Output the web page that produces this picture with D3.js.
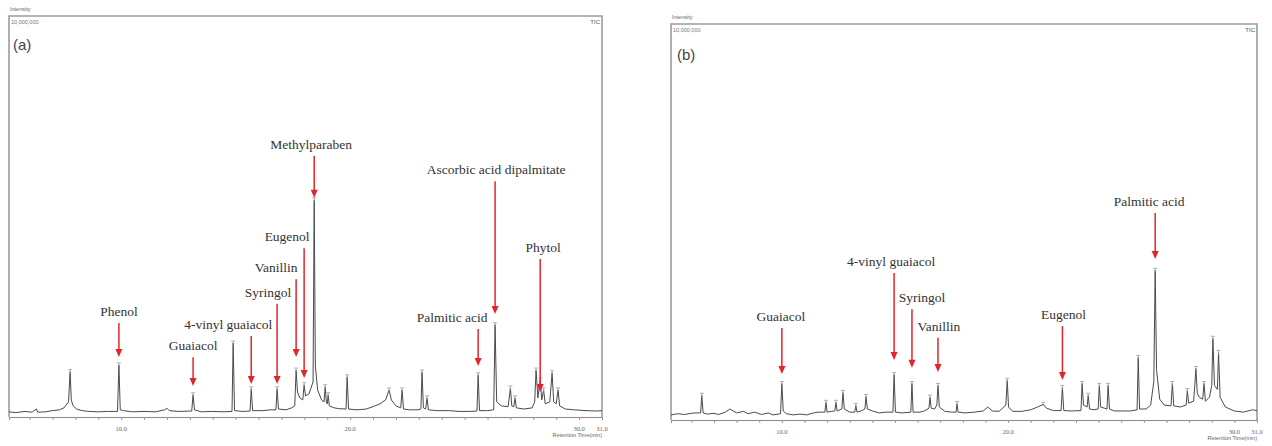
<!DOCTYPE html>
<html><head><meta charset="utf-8">
<script src="https://cdn.jsdelivr.net/npm/d3@7"></script>
<style>body{margin:0;background:#fff}svg{display:block}</style>
</head><body>
<svg id="c" width="1272" height="446"></svg>
<script>
// ---- DATA ----
// Retention time (min), intensity (x10^6 counts)
const traceA = [
[5.1,0.05],[5.4,0.03],[5.8,0.06],[6.1,0.04],[6.3,0.12],[6.35,0.04],[6.7,0.05],[7.0,0.08],[7.3,0.1],[7.5,0.15],[7.7,0.3],[7.77,1.06],[7.82,0.35],[7.9,0.2],[8.05,0.12],[8.3,0.08],[8.6,0.06],[9.0,0.05],[9.4,0.06],[9.84,0.06],[9.9,1.23],[9.96,0.1],[10.1,0.08],[10.5,0.05],[11.0,0.06],[11.5,0.05],[11.9,0.1],[12.0,0.14],[12.1,0.08],[12.5,0.06],[13.08,0.07],[13.14,0.48],[13.2,0.1],[13.5,0.05],[14.0,0.06],[14.5,0.05],[14.84,0.06],[14.89,1.78],[14.95,0.08],[15.3,0.06],[15.63,0.07],[15.68,0.63],[15.74,0.08],[16.2,0.08],[16.5,0.1],[16.76,0.1],[16.81,0.63],[16.87,0.12],[17.2,0.1],[17.45,0.15],[17.58,0.2],[17.64,1.1],[17.7,0.55],[17.8,0.4],[17.93,0.35],[17.99,0.73],[18.05,0.45],[18.2,0.5],[18.38,0.8],[18.43,5.38],[18.48,1.2],[18.58,0.6],[18.75,0.35],[18.86,0.3],[18.91,0.68],[18.96,0.3],[19.0,0.25],[19.04,0.48],[19.09,0.2],[19.3,0.15],[19.5,0.13],[19.82,0.12],[19.87,0.93],[19.93,0.12],[20.3,0.1],[20.7,0.12],[21.0,0.18],[21.3,0.25],[21.55,0.35],[21.7,0.6],[21.8,0.35],[22.0,0.2],[22.21,0.15],[22.27,0.6],[22.33,0.12],[22.6,0.1],[22.95,0.1],[23.09,0.12],[23.14,1.05],[23.2,0.15],[23.3,0.12],[23.36,0.4],[23.42,0.1],[23.8,0.08],[24.3,0.08],[24.8,0.06],[25.2,0.06],[25.54,0.07],[25.59,0.98],[25.65,0.08],[26.0,0.08],[26.27,0.1],[26.33,2.24],[26.4,0.3],[26.6,0.2],[26.9,0.18],[27.0,0.65],[27.06,0.2],[27.15,0.18],[27.2,0.4],[27.26,0.15],[27.6,0.12],[27.95,0.15],[28.06,0.3],[28.12,1.1],[28.2,0.4],[28.3,0.85],[28.37,0.35],[28.45,0.6],[28.52,0.25],[28.72,0.3],[28.82,1.03],[28.89,0.3],[29.0,0.25],[29.08,0.6],[29.15,0.2],[29.4,0.12],[29.8,0.1],[30.3,0.08],[30.8,0.07],[31.0,0.08]
];
const traceB = [
[5.1,0.05],[5.4,0.08],[5.7,0.06],[6.0,0.09],[6.2,0.1],[6.41,0.1],[6.46,0.55],[6.52,0.1],[6.7,0.07],[7.0,0.09],[7.2,0.06],[7.5,0.12],[7.7,0.2],[7.85,0.15],[8.0,0.1],[8.3,0.14],[8.5,0.08],[8.8,0.12],[9.1,0.06],[9.4,0.1],[9.6,0.05],[9.94,0.08],[10.0,0.85],[10.06,0.15],[10.2,0.08],[10.5,0.05],[10.8,0.07],[11.1,0.05],[11.4,0.1],[11.6,0.12],[11.9,0.12],[11.95,0.37],[12.0,0.12],[12.2,0.14],[12.34,0.15],[12.39,0.37],[12.44,0.15],[12.65,0.2],[12.7,0.62],[12.76,0.2],[13.0,0.12],[13.22,0.12],[13.27,0.29],[13.32,0.12],[13.5,0.15],[13.67,0.2],[13.72,0.52],[13.78,0.2],[14.0,0.15],[14.3,0.1],[14.6,0.12],[14.91,0.12],[14.96,1.08],[15.02,0.12],[15.3,0.1],[15.7,0.12],[15.75,0.85],[15.8,0.12],[16.1,0.12],[16.3,0.15],[16.5,0.22],[16.55,0.5],[16.6,0.22],[16.75,0.2],[16.85,0.3],[16.9,0.8],[16.96,0.25],[17.2,0.14],[17.5,0.12],[17.7,0.12],[17.74,0.34],[17.79,0.12],[18.1,0.1],[18.5,0.12],[18.9,0.15],[19.1,0.25],[19.3,0.15],[19.6,0.14],[19.9,0.3],[19.96,0.93],[20.02,0.25],[20.2,0.14],[20.6,0.14],[21.0,0.18],[21.3,0.25],[21.55,0.32],[21.7,0.22],[22.0,0.16],[22.34,0.16],[22.4,0.75],[22.46,0.16],[22.8,0.15],[23.22,0.16],[23.27,0.85],[23.33,0.3],[23.49,0.25],[23.54,0.55],[23.6,0.2],[23.8,0.18],[23.98,0.2],[24.03,0.8],[24.09,0.25],[24.37,0.2],[24.42,0.8],[24.48,0.2],[24.7,0.15],[25.0,0.15],[25.4,0.15],[25.7,0.18],[25.75,1.51],[25.81,0.2],[26.1,0.2],[26.3,0.3],[26.44,0.9],[26.5,3.73],[26.56,1.2],[26.7,0.45],[26.9,0.3],[27.2,0.28],[27.26,0.85],[27.32,0.28],[27.6,0.25],[27.87,0.3],[27.92,0.67],[27.98,0.35],[28.2,0.4],[28.25,0.8],[28.3,1.23],[28.36,0.6],[28.45,0.5],[28.6,0.45],[28.66,0.85],[28.72,0.4],[28.9,0.5],[29.0,0.8],[29.05,2.0],[29.12,0.8],[29.25,0.7],[29.3,1.64],[29.37,0.5],[29.6,0.25],[30.0,0.15],[30.4,0.12],[30.8,0.18],[31.0,0.16]
];
const compoundsA = ["Phenol","Guaiacol","4-vinyl guaiacol","Syringol","Vanillin","Eugenol","Methylparaben","Palmitic acid","Ascorbic acid dipalmitate","Phytol"];
const compoundTimesA = [9.9,13.14,15.68,16.81,17.64,17.99,18.43,25.59,26.33,28.3];
const compoundsB = ["Guaiacol","4-vinyl guaiacol","Syringol","Vanillin","Eugenol","Palmitic acid"];
const compoundTimesB = [10.0,14.96,15.75,16.9,22.4,26.5];
const xTickLabels = ["10.0","20.0","30.0","31.0"];
const xTickValues = [10,20,30,31];
const panelLetters = ["(a)","(b)"];

// ---- LAYOUT (annotation placement, in intensity units / px offsets) ----
const layoutA = { labelV:[2.46,1.60,2.13,2.94,3.56,4.34,6.66,2.31,6.02,4.07],
                  tipV:[1.43,0.70,0.75,0.75,1.43,0.90,5.43,1.20,2.51,0.55],
                  dx:[0,0,-23,-9,-20,-17,-3,-26,1,3] };
const layoutB = { labelV:[2.44,3.84,2.92,2.19,2.49,5.37],
                  tipV:[1.09,1.45,1.25,1.14,0.94,4.02],
                  dx:[-1,-3,10,1,1,-6] };

const svg = d3.select("#c");
const RED = "#e2252c";

function panel(cfg){
  const g = svg.append("g");
  const x = d3.scaleLinear().domain([5.1,31.0]).range([cfg.left,cfg.right]);
  const y = d3.scaleLinear().domain([-0.08,10]).range([cfg.bottom,cfg.top]);
  // frame
  g.append("path").attr("d",`M${cfg.left},${cfg.bottom}V${cfg.top}H${cfg.right}V${cfg.bottom}`)
    .attr("fill","none").attr("stroke","#9c9c9c").attr("stroke-width",1.6);
  // x axis
  const ax = g.append("g").attr("transform",`translate(0,${cfg.bottom})`)
    .call(d3.axisBottom(x).tickValues(d3.range(6,31,1)).tickSize(3).tickFormat(""));
  ax.select(".domain").attr("stroke","#8a8a8a").attr("stroke-width",1);
  ax.selectAll(".tick line").attr("stroke","#999");
  g.append("g").selectAll("text").data(xTickValues).join("text")
    .attr("x",d=>x(d)).attr("y",cfg.bottom+14).attr("text-anchor","middle")
    .attr("font-family","Liberation Serif").attr("font-size",6.5).attr("fill","#666")
    .text((d,i)=>xTickLabels[i]);
  g.append("text").attr("x",cfg.right).attr("y",cfg.bottom+20).attr("text-anchor","end")
    .attr("font-family","Liberation Sans").attr("font-size",5.5).attr("fill","#666").text("Retention Time(min)");
  g.append("text").attr("x",cfg.left+1).attr("y",cfg.top-5)
    .attr("font-family","Liberation Sans").attr("font-size",5.5).attr("fill","#666").text("Intensity");
  g.append("text").attr("x",cfg.left+2).attr("y",cfg.top+8)
    .attr("font-family","Liberation Sans").attr("font-size",5.5).attr("fill","#777").text("10,000,000");
  g.append("text").attr("x",cfg.right-2).attr("y",cfg.top+8).attr("text-anchor","end")
    .attr("font-family","Liberation Sans").attr("font-size",6).attr("fill","#555").text("TIC");
  g.append("text").attr("x",cfg.left+cfg.letterDx).attr("y",cfg.top+cfg.letterDy)
    .attr("font-family","Liberation Sans").attr("font-size",15).attr("fill","#444").text(cfg.letter);
  // trace
  g.append("path").datum(cfg.trace)
    .attr("d",d3.line().x(d=>x(d[0])).y(d=>y(d[1])))
    .attr("fill","none").attr("stroke","#4a4a4a").attr("stroke-width",1);
  // peak top markers
  const peaks = cfg.trace.filter((d,i,a)=>i>0&&i<a.length-1&&d[1]>a[i-1][1]&&d[1]>a[i+1][1]&&d[1]>0.28);
  g.append("g").selectAll("path").data(peaks).join("path")
    .attr("d",d=>`M${x(d[0])-2},${y(d[1])-2}H${x(d[0])+2}M${x(d[0])},${y(d[1])-2}V${y(d[1])+2}`)
    .attr("stroke","#8fa3a0").attr("stroke-width",0.8).attr("fill","none");
  // annotations
  cfg.names.forEach((name,i)=>{
    const ax0 = x(cfg.times[i]);
    const ly = y(cfg.layout.labelV[i]);
    const ty = y(cfg.layout.tipV[i]);
    g.append("text").attr("x",ax0+cfg.layout.dx[i]).attr("y",ly).attr("text-anchor","middle")
      .attr("font-family","Liberation Serif").attr("font-size",13.5).attr("fill","#333").text(name);
    g.append("line").attr("x1",ax0).attr("x2",ax0).attr("y1",ly+7).attr("y2",ty-6)
      .attr("stroke",RED).attr("stroke-width",1.5);
    g.append("path").attr("d",`M${ax0-3.5},${ty-8}L${ax0+3.5},${ty-8}L${ax0},${ty}Z`).attr("fill",RED);
  });
}

panel({left:9,right:602,top:16,bottom:417,trace:traceA,names:compoundsA,times:compoundTimesA,layout:layoutA,letter:panelLetters[0],letterDx:4,letterDy:34});
panel({left:671,right:1257,top:24,bottom:420,trace:traceB,names:compoundsB,times:compoundTimesB,layout:layoutB,letter:panelLetters[1],letterDx:6,letterDy:36});
</script>
</body></html>
